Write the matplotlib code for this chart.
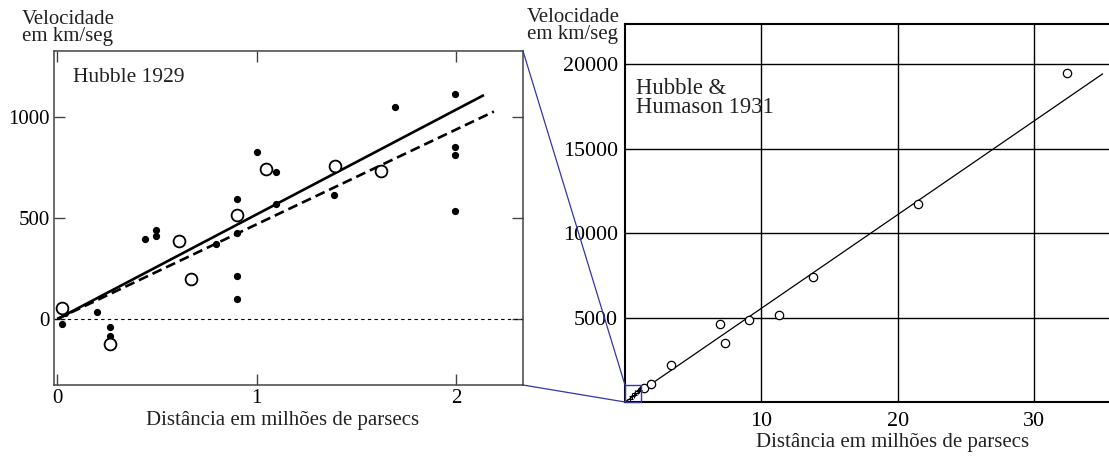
import matplotlib
matplotlib.use("Agg")
import matplotlib.pyplot as plt
from matplotlib.patches import Rectangle, ConnectionPatch
import numpy as np

plt.rcParams['font.family'] = ['Liberation Serif', 'DejaVu Serif']

# ---- Hubble 1929 (left panel) ----
ind_dist = [0.025, 0.04, 0.20, 0.265, 0.265, 0.44, 0.495, 0.495, 0.795, 0.90, 0.90,
            0.90, 0.90, 1.0, 1.095, 1.095, 1.39, 1.695, 1.995, 1.995, 1.995, 1.995]
ind_vel = [-25, 30, 35, -38, -82, 396, 439, 408, 373, 595, 426,
           213, 98, 827, 728, 568, 614, 1048, 1114, 850, 808, 533]
grp_dist = [0.025, 0.265, 0.61, 0.67, 0.90, 1.045, 1.395, 1.625]
grp_vel = [55, -122, 383, 198, 515, 741, 757, 731]
slope_solid = 517
slope_dashed = 468
solid_xmax = 2.14
dashed_xmax = 2.19

# ---- Hubble & Humason 1931 (right panel) ----
hh_dist = [1.36, 1.87, 3.36, 6.95, 7.34, 9.1, 11.3, 13.81, 21.5, 32.37]
hh_vel = [828, 1065, 2189, 4615, 3509, 4852, 5166, 7373, 11734, 19503]
cross_dist = [0.35, 0.5, 0.65, 0.76, 0.92, 1.0]
cross_vel = [180, 330, 420, 530, 627, 700]
slope_hh = 555
hh_xmax = 35.0
zoom_box = (0, 1.2, 0, 1000)

left_title = "Hubble 1929"
right_title = "Hubble &\nHumason 1931"
ylab = "Velocidade\nem km/seg"
xlab = "Distância em milhões de parsecs"

W, H = 1109, 457
fig = plt.figure(figsize=(W / 100, H / 100), dpi=100)

def frac(x0, y0, x1, y1):
    return [x0 / W, 1 - y1 / H, (x1 - x0) / W, (y1 - y0) / H]

FS = 15
spine_col = '#444444'

# Left axes
ax1 = fig.add_axes(frac(54, 51, 523, 385))
ax1.set_xlim(-0.017, 2.336)
ax1.set_ylim(-326, 1324)
ax1.axhline(0, color='black', lw=0.8, dashes=(3, 3))
xs = np.array([0, solid_xmax])
ax1.plot(xs, slope_solid * xs, color='black', lw=1.9, solid_capstyle='butt')
xd = np.array([0, dashed_xmax])
ax1.plot(xd, slope_dashed * xd, color='black', lw=1.9, dashes=(3.8, 1.9))
ax1.plot(ind_dist, ind_vel, 'o', color='black', ms=4.2, zorder=3)
ax1.plot(grp_dist, grp_vel, 'o', mfc='white', mec='black', ms=8.5, mew=1.3, zorder=4)
ax1.set_xticks([0, 1, 2])
ax1.set_yticks([0, 500, 1000])
ax1.tick_params(direction='in', length=8, width=1, color=spine_col,
                top=True, right=True, labelsize=FS, pad=3)
for s in ax1.spines.values():
    s.set_color(spine_col)
    s.set_linewidth(1.1)
ax1.text(0.04, 0.907, left_title, transform=ax1.transAxes, fontsize=FS + 0.5,
         va='baseline', ha='left', color='#222222')

# Right axes
ax2 = fig.add_axes(frac(625, 24, 1112, 402))
ax2.set_xlim(0, 35.7)
ax2.set_ylim(0, 22385)
ax2.set_xticks([10, 20, 30])
ax2.set_yticks([5000, 10000, 15000, 20000])
ax2.grid(True, color='black', lw=1.0)
ax2.set_axisbelow(True)
ax2.tick_params(length=0, labelsize=FS + 0.8, pad=5)
ax2.tick_params(axis='x', pad=7)
for s in ['top', 'left', 'bottom']:
    ax2.spines[s].set_color('black')
    ax2.spines[s].set_linewidth(1.5)
ax2.spines['right'].set_visible(False)
xh = np.array([0, hh_xmax])
ax2.plot(xh, slope_hh * xh, color='black', lw=0.9, zorder=3)
ax2.plot(hh_dist, hh_vel, 'o', mfc='white', mec='black', ms=6, mew=0.9, zorder=4)
ax2.plot(cross_dist, cross_vel, '+', color='black', ms=4.5, mew=0.8, zorder=4)
bx0, bx1, by0, by1 = zoom_box
blue = '#3535a5'
ax2.add_patch(Rectangle((bx0, by0), bx1 - bx0, by1 - by0, fill=False,
                        edgecolor=blue, lw=1.0, zorder=5, clip_on=False))
ax2.text(0.023, 0.858, right_title, transform=ax2.transAxes, fontsize=FS + 1.3,
         va='top', ha='left', linespacing=0.92, color='#222222')

for ya, yb in [(1, by1), (0, by0)]:
    con = ConnectionPatch(xyA=(1, ya), coordsA=ax1.transAxes,
                          xyB=(bx0, yb), coordsB=ax2.transData,
                          color=blue, lw=0.9)
    fig.add_artist(con)

# Labels
fig.text(68 / W, 1 - 28 / H, ylab, ha='center', va='center', fontsize=FS,
         linespacing=0.85, color='#222222')
fig.text(620 / W, 1 - 26 / H, ylab, ha='right', va='center', fontsize=FS,
         linespacing=0.85, multialignment='left', color='#222222')
fig.text(283 / W, 1 - 421 / H, xlab, ha='center', va='center', fontsize=FS, color='#222222')
fig.text(893 / W, 1 - 443 / H, xlab, ha='center', va='center', fontsize=FS, color='#222222')

fig.savefig('out.png', dpi=100)
